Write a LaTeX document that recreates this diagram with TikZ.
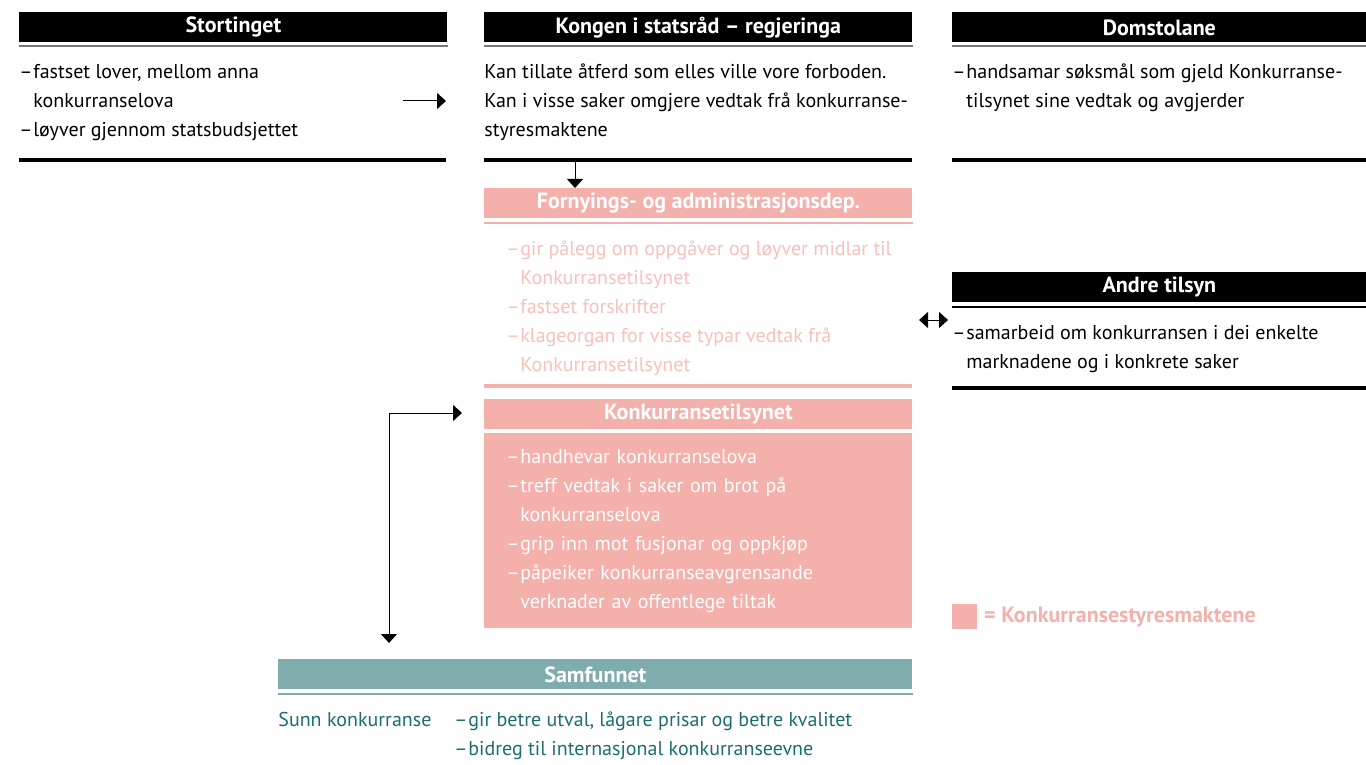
\documentclass[tikz,border=0pt]{standalone}
\usepackage{fontspec}
\setmainfont{PT Sans}
\usepackage{xcolor}
\usetikzlibrary{arrows.meta, positioning}
\definecolor{konkpink}{RGB}{244,176,171}
\definecolor{lightpink}{RGB}{247,192,187}
\definecolor{samteal}{RGB}{127,172,172}
\definecolor{darkteal}{RGB}{28,108,112}
\definecolor{rulegray}{RGB}{120,120,120}
\newcommand{\dsh}{\makebox[7pt][l]{–}}
\newcommand{\ind}{\hspace*{7pt}}

\begin{document}
\begin{tikzpicture}[x=0.5pt, y=-0.5pt,
    node distance=3pt,
    head/.style={anchor=north west, fill=black, text=white, inner sep=0pt,
                 minimum width=214pt, minimum height=15pt, font=\bfseries\fontsize{11}{12}\selectfont},
    body/.style={anchor=base west, inner sep=0pt, align=left, font=\fontsize{10}{14.5}\selectfont},
    thinrule/.style={draw=rulegray, line width=0.8pt},
    thickrule/.style={draw=black, line width=2pt},
    arr/.style={-{Triangle[length=4.5pt, width=8pt]}, line width=0.5pt},
    arrboth/.style={{Triangle[length=4.5pt, width=8pt]}-{Triangle[length=4.5pt, width=8pt]}, line width=0.5pt}
]
    \useasboundingbox (0,0) rectangle (1366,765);

    % Top row
    \node[head] (storting) at (19,12) {Stortinget};
    \node[head] (kongen) at (484,12) {Kongen i statsråd – regjeringa};
    \node[head, minimum width=207pt] (domstol) at (952,12) {Domstolane};
    \draw[thinrule] ([yshift=-1.5pt]storting.south west) -- ([yshift=-1.5pt]storting.south east);
    \draw[thinrule] ([yshift=-1.5pt]kongen.south west) -- ([yshift=-1.5pt]kongen.south east);
    \draw[thinrule] ([yshift=-1.5pt]domstol.south west) -- ([yshift=-1.5pt]domstol.south east);

    % body texts sit on the baseline of their last line
    \node[body] (stortxt) at (19,137) {\dsh fastset lover, mellom anna\\\ind konkurranselova\\\dsh løyver gjennom statsbudsjettet};
    \node[body] (kongtxt) at (484,137) {Kan tillate åtferd som elles ville vore forboden.\\Kan i visse saker omgjere vedtak frå konkurranse-\\styresmaktene};
    \node[body] (domtxt) at (952,108) {\dsh handsamar søksmål som gjeld Konkurranse-\\\ind tilsynet sine vedtak og avgjerder};

    \draw[thickrule] (19,160) -- (446,160);
    \draw[thickrule] (484,160) -- (912,160);
    \draw[thickrule] (952,160) -- (1366,160);

    % Fornyings- og administrasjonsdep.
    \node[head, fill=konkpink] (fad) at (484,188) {Fornyings- og administrasjonsdep.};
    \draw[konkpink, line width=1pt] ([yshift=-2pt]fad.south west) -- ([yshift=-2pt]fad.south east);
    \node[body, text=lightpink] (fadtxt) at (506,371) {\dsh gir pålegg om oppgåver og løyver midlar til\\\ind Konkurransetilsynet\\\dsh fastset forskrifter\\\dsh klageorgan for visse typar vedtak frå\\\ind Konkurransetilsynet};
    \draw[konkpink, line width=2pt] (484,386) -- (912,386);

    % Konkurransetilsynet
    \node[head, fill=konkpink] (kt) at (484,399) {Konkurransetilsynet};
    \node[anchor=north west, fill=konkpink, text=white, minimum height=97.5pt, inner xsep=11pt, inner ysep=0pt,
          text width=192pt, align=left, font=\fontsize{10}{14.5}\selectfont] (kttxt) at (484,433)
          {\dsh handhevar konkurranselova\\\dsh treff vedtak i saker om brot på\\\ind konkurranselova\\\dsh grip inn mot fusjonar og oppkjøp\\\dsh påpeiker konkurranseavgrensande\\\ind verknader av offentlege tiltak};

    % Andre tilsyn
    \node[head, minimum width=207pt] (andre) at (952,272) {Andre tilsyn};
    \draw[black, line width=0.8pt] ([yshift=-2pt]andre.south west) -- ([yshift=-2pt]andre.south east);
    \node[body] (andretxt) at (952,368) {\dsh samarbeid om konkurransen i dei enkelte\\\ind marknadene og i konkrete saker};
    \draw[thickrule] (952,388) -- (1366,388);

    % Samfunnet
    \node[head, fill=samteal, minimum width=317pt] (samf) at (278,659) {Samfunnet};
    \draw[samteal, line width=0.8pt] ([yshift=-2pt]samf.south west) -- ([yshift=-2pt]samf.south east);
    \node[body, text=darkteal] (sunn) at (278,726) {Sunn konkurranse};
    \node[body, text=darkteal] (samtxt) at (454,755) {\dsh gir betre utval, lågare prisar og betre kvalitet\\\dsh bidreg til internasjonal konkurranseevne};

    % Legend
    \node[anchor=north west, fill=konkpink, minimum size=12.5pt, inner sep=0pt] (legsq) at (952,604) {};
    \node[right=3pt of legsq, inner sep=0pt, text=konkpink, font=\bfseries\fontsize{11}{12}\selectfont] (legtxt) {= Konkurransestyresmaktene};

    % Arrows
    \coordinate (sa) at (403,101);
    \coordinate (sb) at (446,101);
    \draw[arr] (sa) -- (sb);
    \coordinate (kdown) at (575,162);
    \draw[arr] (kdown) -- (kdown |- fad.north);
    \coordinate (ktleft) at (462,413);
    \coordinate (samtop) at (389,643);
    \draw[arrboth] (ktleft) -| (samtop);
    \coordinate (dl) at (919,320);
    \coordinate (dr) at (948,320);
    \draw[arrboth] (dl) -- (dr);
\end{tikzpicture}
\end{document}
